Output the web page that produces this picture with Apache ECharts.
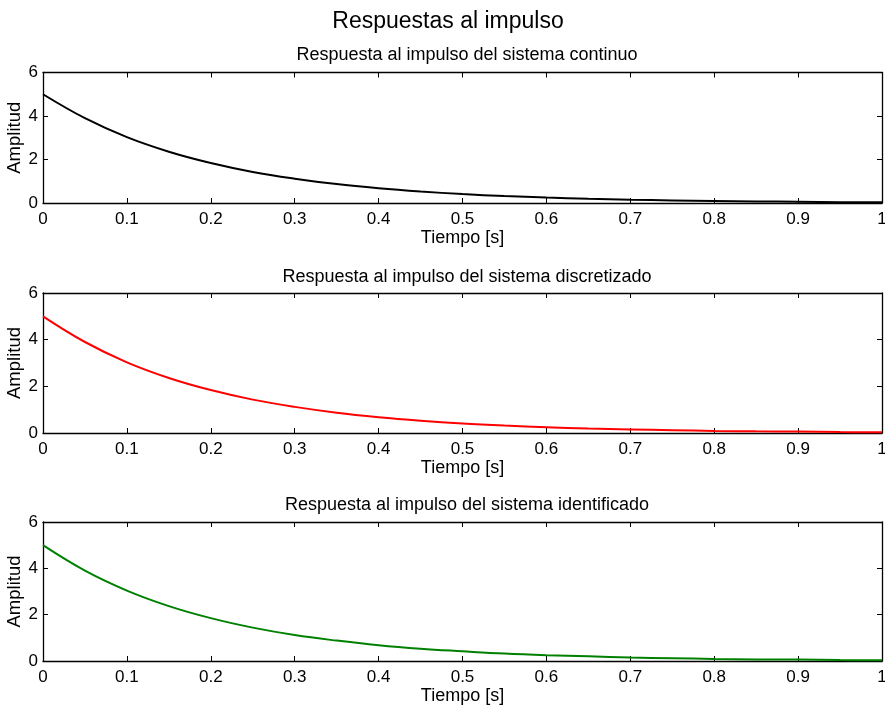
<!DOCTYPE html>
<html>
<head>
<meta charset="utf-8">
<script src="https://cdn.jsdelivr.net/npm/echarts@6/dist/echarts.min.js"></script>
<style>html,body{margin:0;padding:0;background:#fff}#c{width:885px;height:706px}</style>
</head>
<body>
<div id="c"></div>
<script>
// Time samples [s]
const tiempo = [0, 0.05, 0.1, 0.15, 0.2, 0.25, 0.3, 0.35, 0.4, 0.45, 0.5, 0.55, 0.6, 0.65, 0.7, 0.75, 0.8, 0.85, 0.9, 0.95, 1.0];
// Impulse responses
const continuo     = [5.0, 3.9, 3.03, 2.36, 1.84, 1.43, 1.12, 0.87, 0.68, 0.53, 0.41, 0.32, 0.25, 0.19, 0.15, 0.12, 0.09, 0.07, 0.06, 0.04, 0.03];
const discretizado = [5.0, 3.9, 3.03, 2.36, 1.84, 1.43, 1.12, 0.87, 0.68, 0.53, 0.41, 0.32, 0.25, 0.19, 0.15, 0.12, 0.09, 0.07, 0.06, 0.04, 0.03];
const identificado = [5.0, 3.9, 3.04, 2.37, 1.85, 1.44, 1.12, 0.88, 0.68, 0.53, 0.42, 0.32, 0.25, 0.2, 0.15, 0.12, 0.09, 0.07, 0.06, 0.04, 0.03];
const xTicks = [0, 0.1, 0.2, 0.3, 0.4, 0.5, 0.6, 0.7, 0.8, 0.9, 1];
const yTicks = [0, 2, 4, 6];

const tituloGeneral = 'Respuestas al impulso';
const subtitulos = [
  'Respuesta al impulso del sistema continuo',
  'Respuesta al impulso del sistema discretizado',
  'Respuesta al impulso del sistema identificado'
];
const colores = ['#000000', '#ff0000', '#008000'];
const datos = [continuo, discretizado, identificado];

const FONT = '"Liberation Sans", Arial, Helvetica, sans-serif';
const grids = [
  { left: 43, right: 3, top: 72.5, height: 130.5, containLabel: false, outerBoundsMode: 'none' },
  { left: 43, right: 3, top: 293, height: 140, containLabel: false, outerBoundsMode: 'none' },
  { left: 43, right: 3, top: 522, height: 139, containLabel: false, outerBoundsMode: 'none' }
];
const subTitleTop = [41, 263, 491];

const axisLine = { show: true, onZero: false, lineStyle: { color: '#000', width: 1.3 } };
const tick = { show: true, inside: true, length: 5, lineStyle: { color: '#000', width: 1 } };

const xAxis = [], yAxis = [], series = [], title = [];
title.push({ text: tituloGeneral, left: 443, top: 5, textAlign: 'center',
  textStyle: { fontFamily: FONT, fontSize: 23, fontWeight: 'normal', color: '#000' } });

grids.forEach((g, i) => {
  title.push({ text: subtitulos[i], left: 462, top: subTitleTop[i], textAlign: 'center',
    textStyle: { fontFamily: FONT, fontSize: 18, fontWeight: 'normal', color: '#000' } });
  const base = { type: 'value', gridIndex: i, min: 0, max: 1, interval: 0.1, splitLine: { show: false }, axisLine, axisTick: tick };
  xAxis.push(Object.assign({}, base, {
    position: 'bottom',
    name: 'Tiempo [s]', nameLocation: 'middle', nameGap: 25,
    nameTextStyle: { fontFamily: FONT, fontSize: 18, color: '#000' },
    axisLabel: { show: true, margin: 8, fontFamily: FONT, fontSize: 17, color: '#000',
      formatter: v => xTicks.includes(Math.round(v * 10) / 10) ? String(Math.round(v * 10) / 10) : '' }
  }));
  xAxis.push(Object.assign({}, base, { position: 'top', axisLabel: { show: false } }));
  const ybase = { type: 'value', gridIndex: i, min: 0, max: 6, interval: 2, splitLine: { show: false }, axisLine, axisTick: tick };
  yAxis.push(Object.assign({}, ybase, {
    position: 'left',
    name: 'Amplitud', nameLocation: 'middle', nameGap: 19, nameRotate: 90, nameMoveOverlap: false,
    nameTextStyle: { fontFamily: FONT, fontSize: 18.5, color: '#000' },
    axisLabel: { show: true, margin: 5, fontFamily: FONT, fontSize: 17, color: '#000',
      formatter: v => yTicks.includes(v) ? String(v) : '' }
  }));
  yAxis.push(Object.assign({}, ybase, { position: 'right', axisLabel: { show: false } }));
  series.push({
    type: 'line', xAxisIndex: 2 * i, yAxisIndex: 2 * i, smooth: 0.4, symbol: 'none',
    lineStyle: { color: colores[i], width: 2 },
    data: tiempo.map((t, k) => [t, datos[i][k]]),
    clip: true
  });
});

const chart = echarts.init(document.getElementById('c'), null, { renderer: 'canvas' });
chart.setOption({ animation: false, backgroundColor: '#fff', title, grid: grids, xAxis, yAxis, series });
</script>
</body>
</html>
